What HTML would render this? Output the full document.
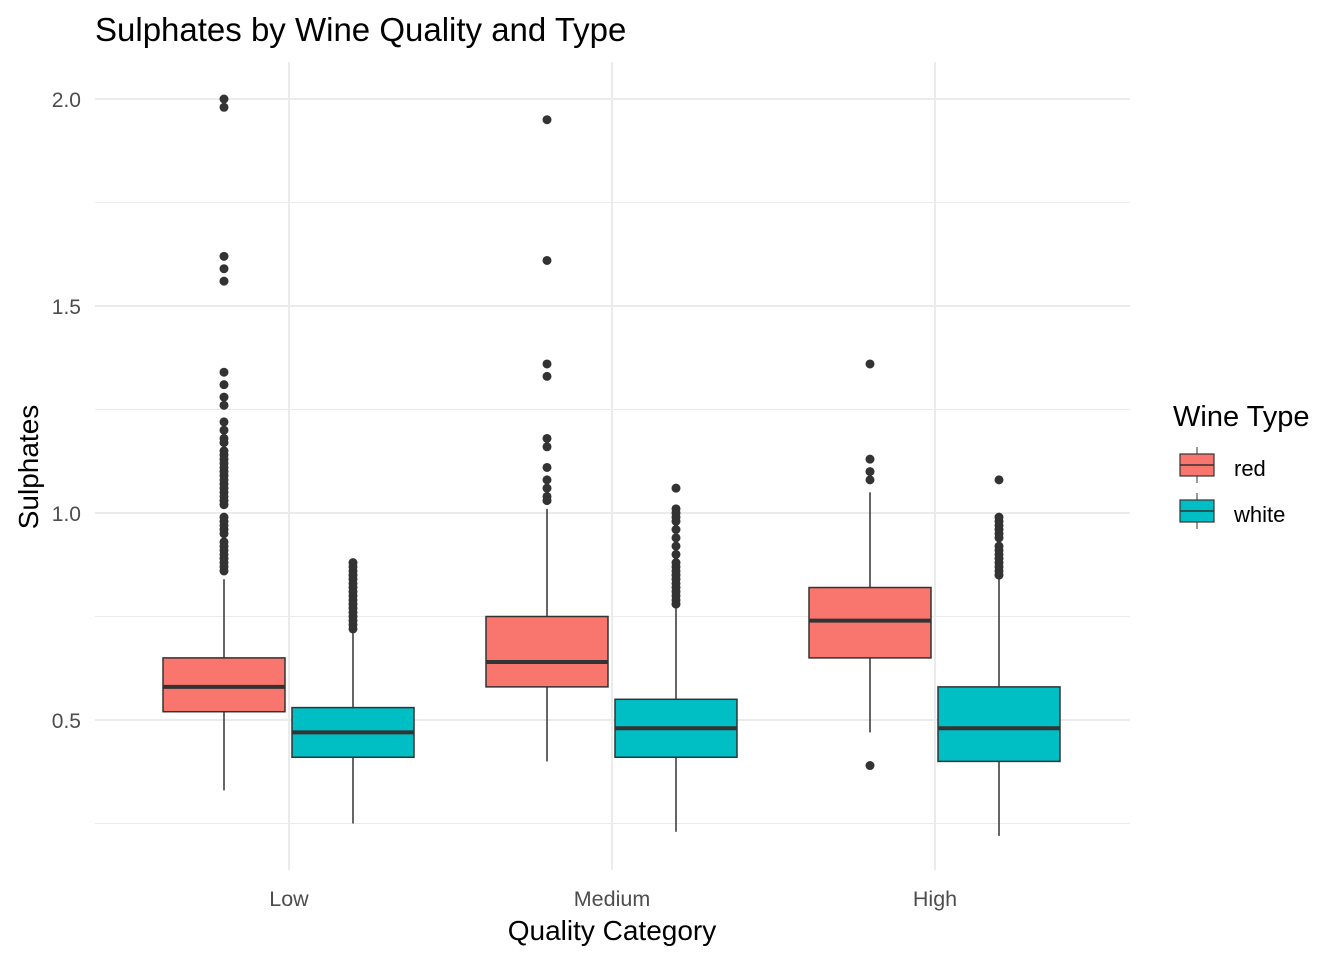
<!DOCTYPE html>
<html><head><meta charset="utf-8"><style>
body{margin:0;background:#fff;}
svg{display:block;font-family:"Liberation Sans",sans-serif;}
</style></head><body>
<svg id="chart" width="1344" height="960" viewBox="0 0 1344 960">
<text x="95" y="41" font-size="33" fill="#000">Sulphates by Wine Quality and Type</text>
<g id="grid"></g><g id="marks"></g>
<text x="612" y="940" font-size="28" text-anchor="middle">Quality Category</text>
<text transform="translate(38,467) rotate(-90)" font-size="28" text-anchor="middle">Sulphates</text>
<g>
<text x="1173" y="426" font-size="29">Wine Type</text>
<g><line x1="1197" y1="447" x2="1197" y2="483" stroke="#333" stroke-width="1"/><rect x="1180" y="454" width="34" height="22" fill="#F8766D" stroke="#333" stroke-width="1.2"/><line x1="1180" y1="465" x2="1214" y2="465" stroke="#333" stroke-width="1.5"/><text x="1234" y="476" font-size="22">red</text></g>
<g><line x1="1197" y1="493" x2="1197" y2="529" stroke="#333" stroke-width="1"/><rect x="1180" y="500" width="34" height="22" fill="#00BFC4" stroke="#333" stroke-width="1.2"/><line x1="1180" y1="511" x2="1214" y2="511" stroke="#333" stroke-width="1.5"/><text x="1234" y="522" font-size="22">white</text></g>
</g>
</svg>
<script>
const categories=["Low","Medium","High"];
const types=["red","white"];
const q1=[[0.52,0.41],[0.58,0.41],[0.65,0.40]];
const medians=[[0.58,0.47],[0.64,0.48],[0.74,0.48]];
const q3=[[0.65,0.53],[0.75,0.55],[0.82,0.58]];
const whiskLow=[[0.33,0.25],[0.40,0.23],[0.47,0.22]];
const whiskHigh=[[0.84,0.71],[1.01,0.77],[1.05,0.84]];
const outliers=[
 [[2.0,1.98,1.62,1.59,1.56,1.34,1.31,1.28,1.26,1.22,1.20,1.18,1.17,1.15,1.14,1.13,1.12,1.11,1.10,1.09,1.08,1.07,1.06,1.05,1.04,1.03,1.02,0.99,0.98,0.97,0.96,0.95,0.93,0.92,0.91,0.90,0.89,0.88,0.87,0.86],
  [0.88,0.87,0.86,0.85,0.84,0.83,0.82,0.81,0.80,0.79,0.78,0.77,0.76,0.75,0.74,0.73,0.72]],
 [[1.95,1.61,1.36,1.33,1.18,1.16,1.11,1.08,1.06,1.04,1.03],
  [1.06,1.01,1.00,0.99,0.98,0.96,0.94,0.92,0.90,0.88,0.87,0.86,0.85,0.84,0.83,0.82,0.81,0.80,0.79,0.78]],
 [[1.36,1.13,1.10,1.08,0.39],
  [1.08,0.99,0.98,0.97,0.96,0.95,0.94,0.92,0.91,0.90,0.89,0.88,0.87,0.86,0.85]]
];
const yTicks=[0.5,1.0,1.5,2.0];
const yMinor=[0.25,0.75,1.25,1.75];
const yTickLabels=["0.5","1.0","1.5","2.0"];
const colors={red:"#F8766D",white:"#00BFC4"};
const NS="http://www.w3.org/2000/svg";
const Y=v=>720-(v-0.5)*414;
const X=i=>289+i*323;
const BW=122;
function mk(parent,tag,attrs){const e=document.createElementNS(NS,tag);for(const k in attrs)e.setAttribute(k,attrs[k]);parent.appendChild(e);return e;}
const grid=document.getElementById('grid'),marks=document.getElementById('marks');
yMinor.forEach(v=>{const l=mk(grid,'line',{x1:95,x2:1130,y1:Y(v),y2:Y(v),stroke:'#ebebeb','stroke-width':1});

});
yTicks.forEach((v,i)=>{const l=mk(grid,'line',{x1:95,x2:1130,y1:Y(v),y2:Y(v),stroke:'#ebebeb','stroke-width':2});


const t=mk(grid,'text',{x:81,y:Y(v)+8,'font-size':21,fill:'#4d4d4d','text-anchor':'end'});t.textContent=yTickLabels[i];

});
categories.forEach((c,i)=>{const l=mk(grid,'line',{x1:X(i),x2:X(i),y1:62,y2:870,stroke:'#ebebeb','stroke-width':2});


const t=mk(grid,'text',{x:X(i),y:906,'font-size':21.5,fill:'#4d4d4d','text-anchor':'middle'});t.textContent=c;


types.forEach((ty,j)=>{const cx=X(i)+(j===0?-65:64);
const g=mk(marks,'g',{});


mk(g,'line',{x1:cx,x2:cx,y1:Y(whiskHigh[i][j]),y2:Y(q3[i][j]),stroke:'#333','stroke-width':1.5});
mk(g,'line',{x1:cx,x2:cx,y1:Y(q1[i][j]),y2:Y(whiskLow[i][j]),stroke:'#333','stroke-width':1.5});
mk(g,'rect',{x:cx-BW/2,y:Y(q3[i][j]),width:BW,height:Y(q1[i][j])-Y(q3[i][j]),fill:colors[ty],stroke:'#333','stroke-width':1.5});
mk(g,'line',{x1:cx-BW/2,x2:cx+BW/2,y1:Y(medians[i][j]),y2:Y(medians[i][j]),stroke:'#333','stroke-width':4});
outliers[i][j].forEach(v=>{mk(g,'circle',{cx:cx,cy:Y(v),r:4.5,fill:'#333'});});
});});
</script>
</body></html>
